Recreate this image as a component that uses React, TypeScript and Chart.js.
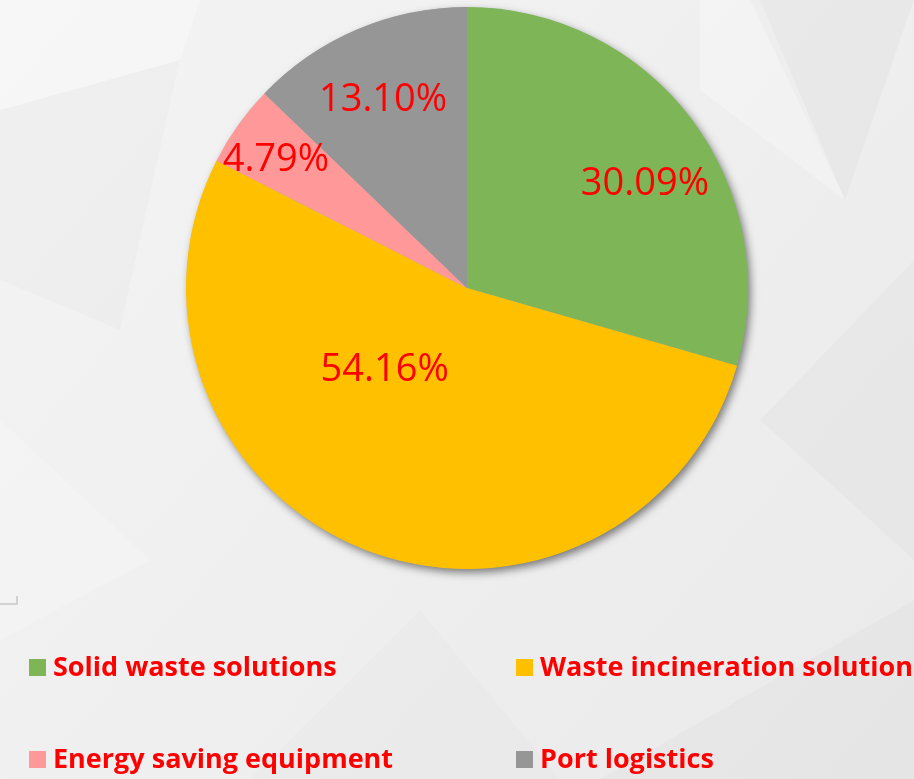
import React, { useEffect, useRef } from "react";
import { Chart, registerables } from "chart.js";

Chart.register(...registerables);

const categories = [
  "Solid waste solutions",
  "Waste incineration solutions",
  "Energy saving equipment",
  "Port logistics",
];
const shares = [30.09, 54.16, 4.79, 13.1];
const sliceColors = ["#7EB557", "#FFC000", "#FF9999", "#969696"];

// label placement: [angle clockwise from 12 o'clock in degrees, fraction of radius]
const labelPlacement: [number, number][] = [
  [59.0, 0.739],
  [226.2, 0.406],
  [304.4, 0.824],
  [336.3, 0.743],
];

const W = 914;
const H = 779;

const bgPlugin = {
  id: "bg",
  beforeDraw(chart: any) {
    const ctx = chart.ctx as CanvasRenderingContext2D;
    ctx.save();
    const g = ctx.createLinearGradient(0, 0, W, H);
    g.addColorStop(0, "#f4f4f4");
    g.addColorStop(1, "#eaeaea");
    ctx.fillStyle = g;
    ctx.fillRect(0, 0, W, H);
    const polys: [string, number[][]][] = [
      ["rgba(0,0,0,0.025)", [[750, 0], [914, 0], [845, 200]]],
      ["rgba(255,255,255,0.25)", [[700, 0], [760, 0], [845, 200], [700, 90]]],
      ["rgba(0,0,0,0.015)", [[0, 110], [180, 60], [120, 330], [0, 280]]],
      ["rgba(255,255,255,0.3)", [[0, 0], [200, 0], [180, 60], [0, 110]]],
      ["rgba(0,0,0,0.02)", [[914, 260], [914, 560], [760, 420]]],
      ["rgba(0,0,0,0.02)", [[600, 779], [914, 600], [914, 779]]],
      ["rgba(255,255,255,0.2)", [[0, 420], [150, 560], [0, 640]]],
      ["rgba(0,0,0,0.012)", [[250, 779], [420, 610], [560, 779]]],
    ];
    for (const [c, pts] of polys) {
      ctx.fillStyle = c;
      ctx.beginPath();
      ctx.moveTo(pts[0][0], pts[0][1]);
      for (let i = 1; i < pts.length; i++) ctx.lineTo(pts[i][0], pts[i][1]);
      ctx.closePath();
      ctx.fill();
    }
    // small corner mark
    ctx.strokeStyle = "#d2d2d2";
    ctx.lineWidth = 2;
    ctx.beginPath();
    ctx.moveTo(0, 604);
    ctx.lineTo(17, 604);
    ctx.lineTo(17, 596);
    ctx.stroke();
    ctx.restore();
  },
};

const shadowPlugin = {
  id: "pieShadow",
  beforeDatasetsDraw(chart: any) {
    const arc = chart.getDatasetMeta(0).data[0];
    if (!arc) return;
    const ctx = chart.ctx as CanvasRenderingContext2D;
    ctx.save();
    ctx.shadowColor = "rgba(0,0,0,0.5)";
    ctx.shadowBlur = 9;
    ctx.shadowOffsetX = 3;
    ctx.shadowOffsetY = 4;
    ctx.fillStyle = "#aaaaaa";
    ctx.beginPath();
    ctx.arc(arc.x, arc.y, arc.outerRadius - 0.5, 0, Math.PI * 2);
    ctx.fill();
    ctx.restore();
  },
};

const labelPlugin = {
  id: "sliceLabels",
  afterDatasetsDraw(chart: any) {
    const meta = chart.getDatasetMeta(0);
    const ctx = chart.ctx as CanvasRenderingContext2D;
    ctx.save();
    ctx.font = '38px "Open Sans"';
    ctx.fillStyle = "#FF0000";
    ctx.textAlign = "center";
    ctx.textBaseline = "alphabetic";
    meta.data.forEach((arc: any, i: number) => {
      const [deg, frac] = labelPlacement[i];
      const a = (deg * Math.PI) / 180;
      const r = arc.outerRadius * frac;
      const cx = arc.x + Math.sin(a) * r;
      const cy = arc.y - Math.cos(a) * r;
      const text = shares[i].toFixed(2) + "%";
      const m = ctx.measureText(text);
      ctx.fillText(text, cx, cy + m.actualBoundingBoxAscent / 2);
    });
    ctx.restore();
  },
};

const legendPlugin = {
  id: "customLegend",
  afterDraw(chart: any) {
    const ctx = chart.ctx as CanvasRenderingContext2D;
    const colX = [29, 516];
    const rowY = [659, 751];
    ctx.save();
    ctx.font = 'bold 27px "Open Sans"';
    ctx.textBaseline = "alphabetic";
    ctx.textAlign = "left";
    categories.forEach((name, i) => {
      const x = colX[i % 2];
      const y = rowY[Math.floor(i / 2)];
      ctx.fillStyle = sliceColors[i];
      ctx.fillRect(x, y, 17, 17);
      ctx.fillStyle = "#FF0000";
      ctx.fillText(name, x + 24, y + 17);
    });
    ctx.restore();
  },
};

export default function App() {
  const ref = useRef<HTMLCanvasElement>(null);
  useEffect(() => {
    if (!ref.current) return;
    const chart = new Chart(ref.current, {
      type: "pie",
      data: {
        labels: categories,
        datasets: [
          {
            data: shares,
            backgroundColor: sliceColors,
            borderWidth: 0,
            hoverOffset: 0,
          },
        ],
      },
      options: {
        responsive: false,
        animation: false,
        layout: { padding: { left: 186, right: 166, top: 7, bottom: 210 } },
        plugins: {
          legend: { display: false },
          tooltip: { enabled: false },
        },
      },
      plugins: [bgPlugin, shadowPlugin, labelPlugin, legendPlugin],
    });
    return () => chart.destroy();
  }, []);
  return (
    <div style={{ position: "absolute", left: 0, top: 0, width: W, height: H }}>
      <canvas ref={ref} width={W} height={H} style={{ display: "block" }} />
    </div>
  );
}
